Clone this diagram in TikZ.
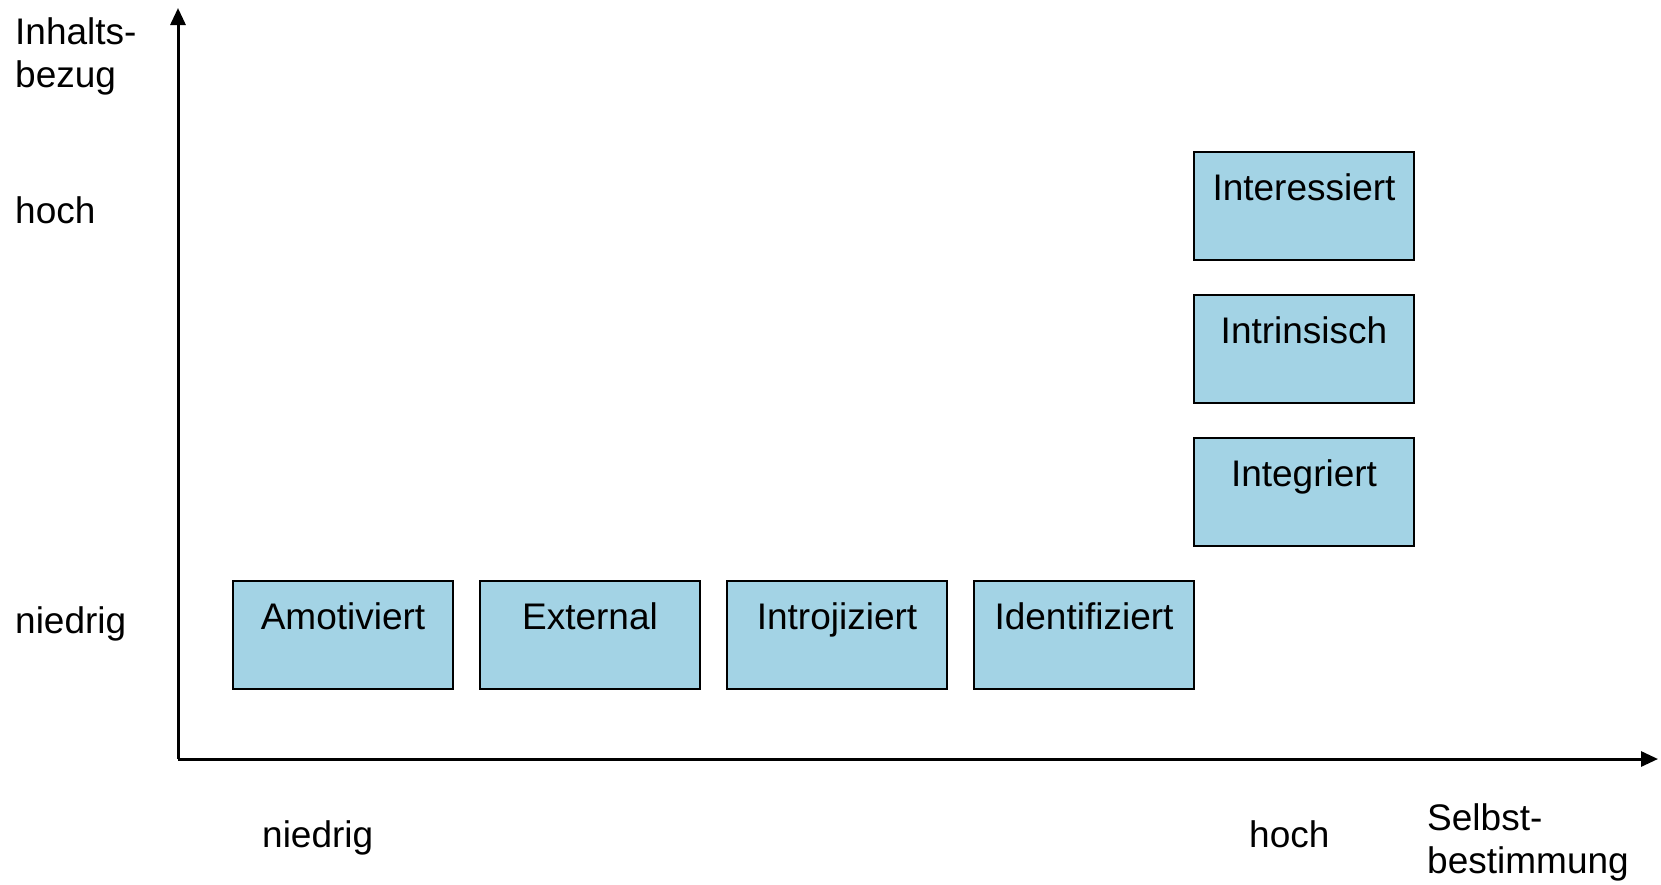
\documentclass[tikz,border=0pt]{standalone}
\usepackage{fontspec}
\setmainfont{Liberation Sans}
\usetikzlibrary{arrows.meta}
\definecolor{boxfill}{RGB}{163,211,229}
\begin{document}
\begin{tikzpicture}[x=1pt,y=-1pt,
  font=\fontsize{37}{43}\selectfont,
  axis/.style={line width=3pt,-{Triangle[length=17pt,width=15pt]}},
  stage/.style={draw=black,line width=2pt,fill=boxfill,rectangle,
    anchor=north west,inner sep=0pt,text width=220pt,align=center,
    text height=48.5pt,text depth=59.5pt},
  lbl/.style={inner sep=0pt,anchor=base west,align=left}]
\useasboundingbox (0,0) rectangle (1661,884);

% axes
\coordinate (origin) at (178,759);
\coordinate (ytip) at (178,8);
\coordinate (xtip) at (1658,759);
\draw[axis] (origin) -- (ytip);
\draw[axis] (origin) -- (xtip);

% axis labels (two-line labels are placed by the baseline of their last line)
\node[lbl] (ylabel) at (15,87) {Inhalts-\\bezug};
\node[lbl] (yhigh) at (15,223) {hoch};
\node[lbl] (ylow) at (15,633) {niedrig};
\node[lbl] (xlow) at (262,847) {niedrig};
\node[lbl] (xhigh) at (1249,847) {hoch};
\node[lbl] (xlabel) at (1427,873) {Selbst-\\bestimmung};

% regulation stages
\node[stage] (amot) at (232,580) {Amotiviert};
\node[stage] (ext) at (479,580) {External};
\node[stage] (intro) at (726,580) {Introjiziert};
\node[stage] (ident) at (973,580) {Identifiziert};
\node[stage] (integ) at (1193,437) {Integriert};
\node[stage] (intr) at (1193,294) {Intrinsisch};
\node[stage] (inter) at (1193,151) {Interessiert};
\end{tikzpicture}
\end{document}
